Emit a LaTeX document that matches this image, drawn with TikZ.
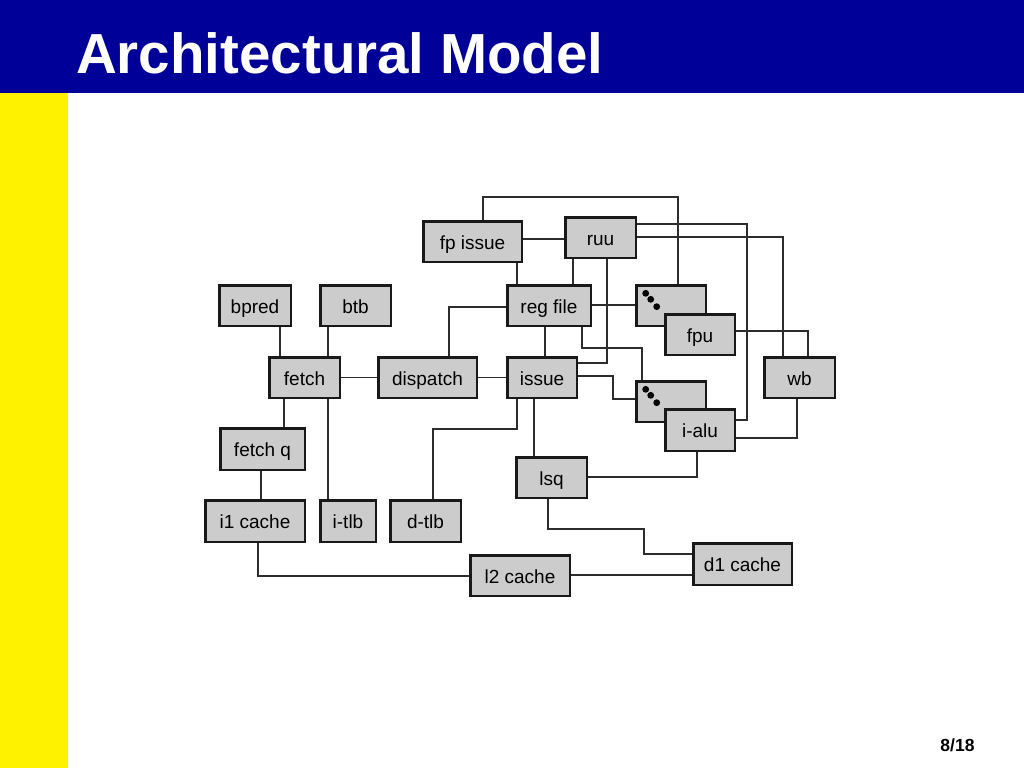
\documentclass[tikz,border=0pt]{standalone}
\usepackage{fontspec}
\setmainfont{Liberation Sans}
\definecolor{slideblue}{RGB}{0,0,153}
\definecolor{boxgray}{RGB}{204,204,204}
\definecolor{wiregray}{RGB}{45,45,45}
\begin{document}
\begin{tikzpicture}[x=1pt, y=-1pt,
    blk/.style={draw=black!90, fill=boxgray, line width=2.5pt, inner sep=0pt,
      minimum height=40.5pt, text height=15pt, text depth=0pt,
      font=\fontsize{19}{21}\selectfont},
    wire/.style={draw=wiregray, line width=1.4pt}]
    \useasboundingbox (0,0) rectangle (1024,768);
    \fill[white] (0,0) rectangle (1024,768);
    \fill[slideblue] (0,0) rectangle (1024,93);
    \fill[yellow] (0,93) rectangle (68,768);
    \node[anchor=base west, inner sep=0pt, text=white, font=\fontsize{56.5}{60}\selectfont\bfseries] (title) at (76,74) {Architectural Model};
    \node[anchor=base, font=\fontsize{17.5}{20}\selectfont\bfseries] (page) at (957.5,751) {8/18};
    % front end
    \node[blk, minimum width=71.5pt] (bpred) at (255,305.5) {bpred};
    \node[blk, minimum width=70.5pt] (btb) at (355.5,305.5) {btb};
    \node[blk, minimum width=70.5pt] (fetch) at (304.5,377.5) {fetch};
    \node[blk, minimum width=84.5pt, minimum height=41.5pt] (fetchq) at (262.5,449) {fetch q};
    \node[blk, minimum width=99.5pt, minimum height=41.5pt] (i1cache) at (255,521) {i1 cache};
    \node[blk, minimum width=55.5pt, minimum height=41.5pt] (itlb) at (348,521) {i-tlb};
    \node[blk, minimum width=98.5pt] (dispatch) at (427.5,377.5) {dispatch};
    \node[blk, minimum width=70.5pt, minimum height=41.5pt] (dtlb) at (425.5,521) {d-tlb};
    % core
    \node[blk, minimum width=98.5pt] (fpissue) at (472.5,241.5) {fp issue};
    \node[blk, minimum width=70.5pt] (ruu) at (600.5,237.5) {ruu};
    \node[blk, minimum width=83.5pt] (regfile) at (549,305.5) {reg file};
    \node[blk, minimum width=69.5pt] (issue) at (542,377.5) {issue};
    \node[blk, minimum width=70.5pt] (lsq) at (551.5,477.5) {lsq};
    \node[blk, minimum width=70.5pt] (wb) at (799.5,377.5) {wb};
    % functional units
    \node[blk, minimum width=69.5pt] (fpdots) at (671,305.5) {};
    \node[blk, minimum width=69.5pt] (fpu) at (700,334.5) {fpu};
    \node[blk, minimum width=69.5pt] (intdots) at (671,401.5) {};
    \node[blk, minimum width=69.5pt, minimum height=41.5pt] (ialu) at (700,430) {i-alu};
    \foreach \b in {fpdots,intdots}
      \foreach \dx/\dy in {10.7/9.3,15.7/15.3,21.7/22.7}
        \fill ([shift={(\dx,\dy)}]\b.north west) circle[radius=3.4pt];
    % memory
    \node[blk, minimum width=99.5pt] (l2cache) at (520,575.5) {l2 cache};
    \node[blk, minimum width=98.5pt, minimum height=41.5pt] (d1cache) at (742.5,564) {d1 cache};

    % connections
    \draw[wire] (bpred.south -| 280,0) -- (fetch.north -| 280,0);
    \draw[wire] (btb.south -| 328,0) -- (fetch.north -| 328,0);
    \draw[wire] (fetch.south -| 284,0) -- (fetchq.north -| 284,0);
    \draw[wire] (fetch.south -| 328,0) -- (itlb.north -| 328,0);
    \draw[wire] (fetchq.south -| 261,0) -- (i1cache.north -| 261,0);
    \draw[wire] (i1cache.south -| 258,0) |- (l2cache.west |- 0,576);
    \draw[wire] (fetch) -- (dispatch);
    \draw[wire] (dispatch) -- (issue);
    \draw[wire] (regfile.west |- 0,307) -| (dispatch.north -| 449,0);
    \draw[wire] (fpissue.north -| 483,0) -- (483,197) -| (fpdots.north -| 678,0);
    \draw[wire] (fpissue.east |- 0,239) -- (ruu.west |- 0,239);
    \draw[wire] (fpissue.south -| 517,0) -- (regfile.north -| 517,0);
    \draw[wire] (ruu.south -| 573,0) -- (regfile.north -| 573,0);
    \draw[wire] (ruu.south -| 607,0) |- (issue.east |- 0,363);
    \draw[wire] (ruu.east |- 0,224) -| (747,420) -- (ialu.east |- 0,420);
    \draw[wire] (ruu.east |- 0,237) -| (wb.north -| 783,0);
    \draw[wire] (regfile.east |- 0,305) -- (fpdots.west |- 0,305);
    \draw[wire] (regfile.south -| 545,0) -- (issue.north -| 545,0);
    \draw[wire] (regfile.south -| 582,0) -- (582,348) -| (intdots.north -| 642,0);
    \draw[wire] (fpu.east |- 0,331) -| (wb.north -| 808,0);
    \draw[wire] (issue.east |- 0,376) -| (613,399) -- (intdots.west |- 0,399);
    \draw[wire] (wb.south -| 797,0) |- (ialu.east |- 0,438);
    \draw[wire] (issue.south -| 517,0) -- (517,429) -| (dtlb.north -| 433,0);
    \draw[wire] (issue.south -| 534,0) -- (lsq.north -| 534,0);
    \draw[wire] (ialu.south -| 697,0) |- (lsq.east |- 0,477);
    \draw[wire] (lsq.south -| 548,0) -- (548,529) -| (644,554) -- (d1cache.west |- 0,554);
    \draw[wire] (l2cache.east |- 0,575) -- (d1cache.west |- 0,575);
\end{tikzpicture}
\end{document}
